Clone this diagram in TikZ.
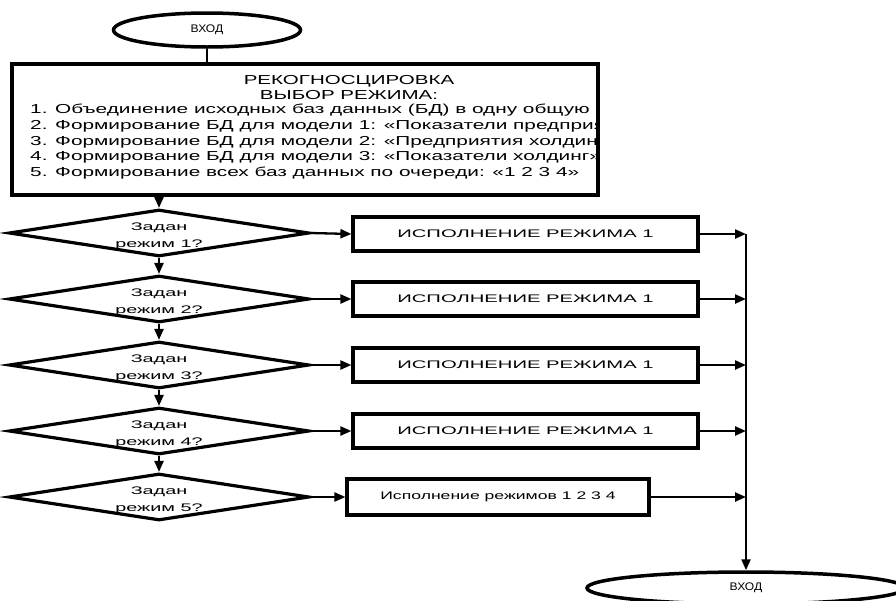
\documentclass[tikz,border=0pt]{standalone}
\usepackage{fontspec}
\usepackage{graphicx}
\setmainfont{Liberation Sans}
\usetikzlibrary{shapes.geometric,arrows.meta}

% horizontally widened text
\newcommand{\widetxt}[2]{\scalebox{#1}[1]{#2}}
% question text inside a decision diamond
\newcommand{\askmode}[1]{\rule{0pt}{14pt}\widetxt{1.8}{Задан}\\\widetxt{1.8}{режим #1?}}

\begin{document}
\begin{tikzpicture}[x=1pt,y=-1pt,
  conn/.style={line width=2.3pt},
  arr/.style={line width=2.3pt,-{Triangle[length=11pt,width=9pt]}},
  term/.style={draw,ellipse,line width=3.5pt,inner sep=0pt,font=\fontsize{11}{13}\selectfont},
  mainbox/.style={draw,line width=3.5pt,inner sep=0pt},
  boxline/.style={inner sep=0pt,font=\fontsize{13}{15}\selectfont},
  decide/.style={draw,diamond,line width=3.2pt,inner sep=0pt,shape aspect=6.4,
    align=center,font=\fontsize{11}{17}\selectfont,minimum width=293pt,minimum height=46pt},
  proc/.style={draw,line width=3.2pt,inner sep=0pt,font=\fontsize{11}{13}\selectfont}]
\useasboundingbox (0,0) rectangle (896,600);

% start terminal
\node[term,minimum width=187pt,minimum height=34pt] (start) at (207,30) {\widetxt{1.1}{ВХОД}};

% preparation block
\node[mainbox,minimum width=586pt,minimum height=131pt] (prep) at (305,129.5) {};
\begin{scope}
  \clip ([xshift=1.75pt,yshift=1.75pt]prep.south west) rectangle ([xshift=-1.75pt,yshift=-1.75pt]prep.north east);
  \node[boxline] (t1) at (349,81) {\widetxt{1.58}{РЕКОГНОСЦИРОВКА}};
  \node[boxline] (t2) at (349,95) {\widetxt{1.58}{ВЫБОР РЕЖИМА:}};
  \node[boxline,anchor=west] (l1) at (30,110) {\widetxt{1.6}{1. Объединение  исходных баз данных (БД) в одну общую БД}};
  \node[boxline,anchor=west] (l2) at (30,126) {\widetxt{1.6}{2. Формирование БД для модели 1: «Показатели  предприятия»}};
  \node[boxline,anchor=west] (l3) at (30,142) {\widetxt{1.6}{3. Формирование БД для модели 2: «Предприятия холдинг»}};
  \node[boxline,anchor=west] (l4) at (30,157) {\widetxt{1.6}{4. Формирование БД для модели 3: «Показатели  холдинг»}};
  \node[boxline,anchor=west] (l5) at (30,173) {\widetxt{1.6}{5. Формирование всех баз данных по очереди: «1 2 3 4»}};
\end{scope}

% decisions
\node[decide] (d1) at (159,233) {\askmode{1}};
\node[decide] (d2) at (159,299) {\askmode{2}};
\node[decide] (d3) at (159,365) {\askmode{3}};
\node[decide] (d4) at (159,431) {\askmode{4}};
\node[decide] (d5) at (159,497) {\askmode{5}};

% processes
\node[proc,minimum width=345pt,minimum height=34pt] (p1) at (525.5,234) {\widetxt{1.84}{ИСПОЛНЕНИЕ РЕЖИМА 1}};
\node[proc,minimum width=345pt,minimum height=34pt] (p2) at (525.5,299) {\widetxt{1.84}{ИСПОЛНЕНИЕ РЕЖИМА 1}};
\node[proc,minimum width=345pt,minimum height=34pt] (p3) at (525.5,365) {\widetxt{1.84}{ИСПОЛНЕНИЕ РЕЖИМА 1}};
\node[proc,minimum width=345pt,minimum height=34pt] (p4) at (525.5,431) {\widetxt{1.84}{ИСПОЛНЕНИЕ РЕЖИМА 1}};
\node[proc,minimum width=302pt,minimum height=36pt] (p5) at (498,497) {\widetxt{1.6}{Исполнение режимов 1 2 3 4}};

% end terminal
\node[term,minimum width=318pt,minimum height=32pt] (stop) at (746,588) {\widetxt{1.1}{ВХОД}};

% collecting line
\coordinate (bus) at (746,234);

% connectors
\draw[conn] (start.south) -- (start.south |- prep.north);
\draw[arr] (d1.north |- prep.south) -- (d1.north);
\draw[arr] (d1.south) -- (d2.north);
\draw[arr] (d2.south) -- (d3.north);
\draw[arr] (d3.south) -- (d4.north);
\draw[arr] (d4.south) -- (d5.north);
\foreach \i in {1,...,5} {
  \draw[arr] (d\i.east) -- (p\i.west);
  \draw[arr] (p\i.east) -- (p\i.east -| bus);
}
\draw[arr] (bus) -- (stop.north);
\end{tikzpicture}
\end{document}
